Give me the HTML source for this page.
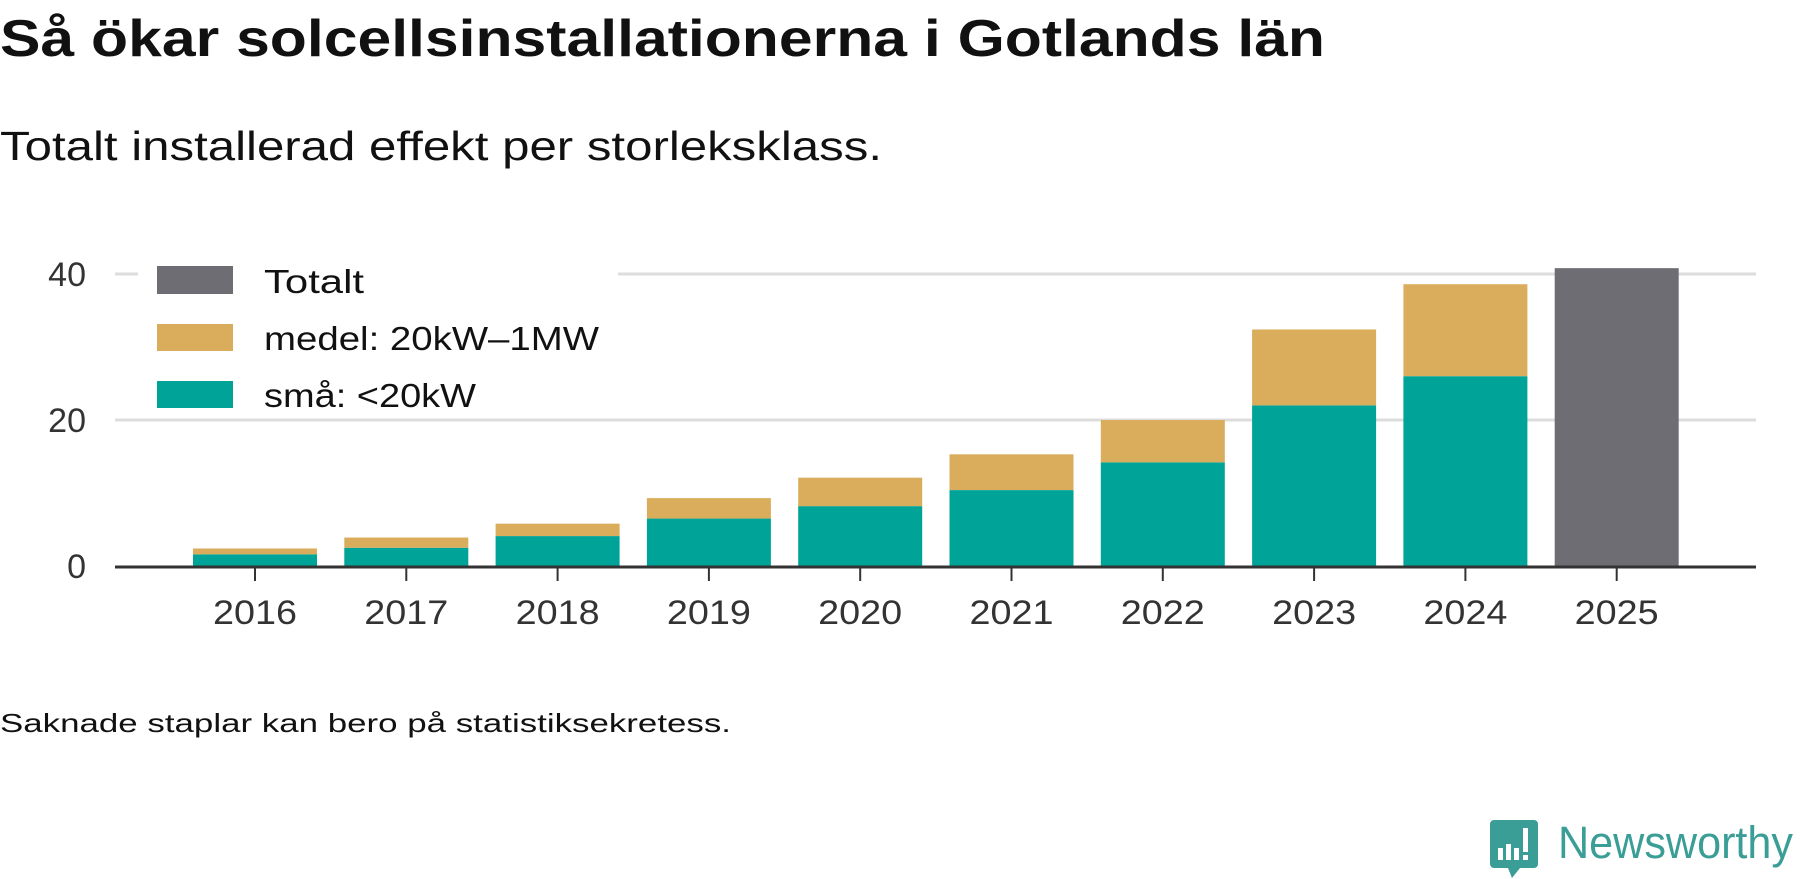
<!DOCTYPE html>
<html><head><meta charset="utf-8">
<style>
body{margin:0;background:#fff;width:1800px;height:879px;overflow:hidden;font-family:"Liberation Sans",sans-serif;}
svg{display:block}
</style></head>
<body>
<svg width="1800" height="879" viewBox="0 0 1800 879">
<text x="0" y="56" font-size="52" font-weight="bold" fill="#111" textLength="1325" lengthAdjust="spacingAndGlyphs">Så ökar solcellsinstallationerna i Gotlands län</text>
<text x="0" y="160" font-size="41" fill="#111" textLength="882" lengthAdjust="spacingAndGlyphs">Totalt installerad effekt per storleksklass.</text>
<g id="grid"></g>
<g id="bars"></g>
<g id="axis"></g>
<g>
<rect x="138" y="258" width="480" height="160" fill="#fff"/>
<rect x="157" y="266" width="76" height="28" fill="#6e6d73"/>
<text x="264" y="293" font-size="33" fill="#111" textLength="100" lengthAdjust="spacingAndGlyphs">Totalt</text>
<rect x="157" y="324" width="76" height="27" fill="#d9ad5b"/>
<text x="264" y="350" font-size="33" fill="#111" textLength="335" lengthAdjust="spacingAndGlyphs">medel: 20kW–1MW</text>
<rect x="157" y="381" width="76" height="27" fill="#00a398"/>
<text x="264" y="407" font-size="33" fill="#111" textLength="212" lengthAdjust="spacingAndGlyphs">små: &lt;20kW</text>
</g>
<text x="0" y="732" font-size="26" fill="#111" textLength="731" lengthAdjust="spacingAndGlyphs">Saknade staplar kan bero på statistiksekretess.</text>
<g>
<path d="M1494 820 h40 a4 4 0 0 1 4 4 v40 a4 4 0 0 1 -4 4 h-14 l-8 10 l-4 -10 h-14 a4 4 0 0 1 -4 -4 v-40 a4 4 0 0 1 4 -4z" fill="#3a9e96"/>
<rect x="1498" y="848" width="5" height="12" fill="#fff"/><rect x="1506" y="844" width="5" height="16" fill="#fff"/><rect x="1514" y="848" width="5" height="12" fill="#fff"/><rect x="1523" y="828" width="5" height="24" fill="#fff"/><rect x="1523" y="855" width="5" height="5" fill="#fff"/>
<text x="1558" y="858" font-size="45" fill="#3a9e96" textLength="235" lengthAdjust="spacingAndGlyphs">Newsworthy</text>
</g>
</svg>
<script>
const years=["2016","2017","2018","2019","2020","2021","2022","2023","2024","2025"];
const sma=[1.6,2.5,4.1,6.5,8.2,10.4,14.2,22.0,26.0,null];
const medel=[0.8,1.4,1.7,2.8,3.9,4.9,5.8,10.4,12.6,null];
const totalt=[null,null,null,null,null,null,null,null,null,40.8];
const yTicks=[0,20,40];
const NS="http://www.w3.org/2000/svg";
const y0=566,pxPer=7.3,x0=255,step=151.3,bw=124,axL=115,axR=1756;
const y=v=>y0-v*pxPer, x=i=>x0+i*step;
function mk(t,a,p){const e=document.createElementNS(NS,t);for(const k in a)e.setAttribute(k,a[k]);p.appendChild(e);return e;}
const grid=document.getElementById('grid'),bars=document.getElementById('bars'),axis=document.getElementById('axis');
yTicks.forEach(v=>{
  if(v>0){const l=mk('line',{x1:axL,x2:axR,y1:y(v),y2:y(v),stroke:'#ddd','stroke-width':3},grid);
  
  }
  const t=mk('text',{x:86,y:y(v)+12,'font-size':34,fill:'#333','text-anchor':'end'},axis);t.textContent=v;
  
  
});
years.forEach((yr,i)=>{
  const cx=x(i);
  if(sma[i]!=null){const r=mk('rect',{x:cx-bw/2,y:y(sma[i]),width:bw,height:sma[i]*pxPer,fill:'#00a398'},bars);
    
    }
  if(medel[i]!=null){const b=sma[i]||0;const r=mk('rect',{x:cx-bw/2,y:y(b+medel[i]),width:bw,height:medel[i]*pxPer,fill:'#d9ad5b'},bars);
    
    }
  if(totalt[i]!=null){const r=mk('rect',{x:cx-bw/2,y:y(totalt[i]),width:bw,height:totalt[i]*pxPer,fill:'#6e6d73'},bars);
    
    }
  const tk=mk('line',{x1:cx,x2:cx,y1:y0,y2:y0+15,stroke:'#333','stroke-width':2},axis);
  
  
  const t=mk('text',{x:cx,y:y0+58,'font-size':34,fill:'#333','text-anchor':'middle','textLength':84,'lengthAdjust':'spacingAndGlyphs'},axis);t.textContent=yr;
  
  
});
const al=mk('line',{x1:axL,x2:axR,y1:y0+1,y2:y0+1,stroke:'#333','stroke-width':3},axis);


</script>
</body></html>
